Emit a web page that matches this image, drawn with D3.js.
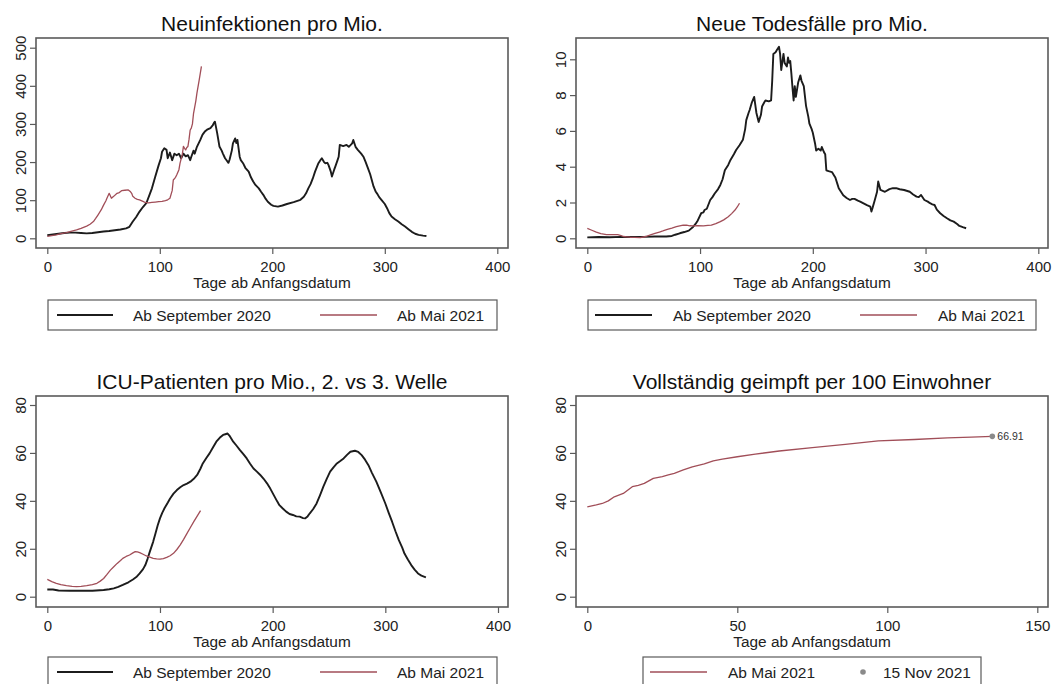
<!DOCTYPE html>
<html><head><meta charset="utf-8">
<script src="https://cdn.jsdelivr.net/npm/d3@7/dist/d3.min.js"></script>
<style>
body{margin:0;background:#fff;}
svg{display:block;font-family:"Liberation Sans",Arial,sans-serif;}
</style></head>
<body><svg id="c" width="1060" height="684"></svg>
<script>
// ---------- DATA ----------
const xTicksLong = [0,100,200,300,400];
const xTicksVax = [0,50,100,150];
const yTicksInf = [0,100,200,300,400,500];
const yTicksDeath = [0,2,4,6,8,10];
const yTicksIcu = [0,20,40,60,80];
const yTicksVax = [0,20,40,60,80];

const titles = ["Neuinfektionen pro Mio.","Neue Todesfälle pro Mio.","ICU-Patienten pro Mio., 2. vs 3. Welle","Vollständig geimpft per 100 Einwohner"];
const xTitle = "Tage ab Anfangsdatum";
const seriesNames = ["Ab September 2020","Ab Mai 2021"];
const markerName = "15 Nov 2021";

// Neuinfektionen – Ab September 2020
const infSepDays = [0,5,10,15,20,25,30,35,40,45,50,55,60,65,70,73,76,79,82,85,88,91,93,96,99,101,102,104,106,107,109,111,113,115,117,119,121,123,125,127,128,130,131,133,136,138,140,142,145,147,148,149,151,153,155,156,158,159,161,162,164,165,167,168,169,171,172,174,176,179,181,183,185,188,190,192,194,196,199,201,205,209,213,219,225,228,230,232,234,236,238,241,243,244,246,247,249,250,252,253,255,256,258,259,260,263,266,268,271,272,274,276,279,281,283,285,287,290,292,293,295,297,300,302,304,306,309,312,315,318,321,324,327,330,334,337];
const infSepVals = [8,10,12,14,15,15,14,13,14,16,18,19,21,23,26,30,44,56,70,82,92,115,131,162,192,210,227,236,232,210,225,205,222,218,222,210,222,215,218,205,214,230,222,240,258,272,280,285,289,296,302,306,276,241,230,223,210,206,198,206,230,249,262,250,258,214,205,197,185,175,160,149,140,131,122,114,104,96,88,85,83,86,90,95,101,109,118,131,142,157,175,197,206,210,200,197,198,192,175,162,180,188,205,214,245,242,245,240,249,258,240,232,222,214,200,184,168,136,122,118,108,101,90,79,66,57,50,44,37,31,24,17,12,9,7,6];
// Neuinfektionen – Ab Mai 2021
const infMaiDays = [0,4,8,12,17,21,26,30,35,38,41,43,45,48,50,52,53,55,57,59,62,64,66,69,72,74,75,76,78,80,82,85,87,90,93,96,99,102,105,107,109,111,112,114,115,117,118,120,121,122,123,124,125,126,127,128,129,130,132,133,135,137];
const infMaiVals = [5,7,9,12,15,18,22,26,32,37,44,52,61,75,87,98,105,118,105,110,118,120,125,126,127,122,118,110,105,102,101,97,94,93,94,95,96,97,99,101,105,125,153,160,166,180,197,220,241,236,232,238,241,260,284,289,300,328,360,381,415,451];

// Todesfälle – Ab September 2020
const deathSepDays = [0,10,20,30,40,50,60,70,75,78,82,86,90,94,96,98,101,103,104,106,109,111,113,116,118,120,122,125,127,130,132,135,138,140,141,143,144,146,148,150,152,154,155,157,158,161,163,164,165,167,168,170,171,172,174,175,177,178,179,180,181,182,183,184,185,187,189,190,192,194,196,197,199,200,202,203,205,207,208,210,211,212,214,217,219,220,222,223,225,227,230,233,235,237,240,242,245,248,251,252,253,255,257,258,260,262,264,268,271,274,277,281,286,289,292,294,296,299,302,304,306,308,310,313,316,319,322,325,328,330,333,336];
const deathSepVals = [0.05,0.07,0.06,0.08,0.07,0.08,0.1,0.1,0.13,0.2,0.28,0.35,0.43,0.65,0.8,1.0,1.4,1.45,1.58,1.65,2.14,2.3,2.5,2.75,2.98,3.3,3.8,4.1,4.38,4.7,4.93,5.2,5.5,6.1,6.6,7.0,7.17,7.6,7.9,7.0,6.5,6.9,7.36,7.6,7.7,7.65,7.7,8.8,10.3,10.4,10.5,10.7,10.3,9.4,10.3,9.8,9.6,10.1,9.8,9.9,9.2,8.4,7.7,8.5,7.9,8.7,9.1,8.8,8.5,7.4,6.8,6.4,6.1,5.9,5.3,4.9,5.0,4.9,5.1,4.8,4.7,3.8,3.75,3.7,3.5,3.4,3.0,2.8,2.6,2.4,2.25,2.14,2.2,2.2,2.1,2.05,1.95,1.85,1.77,1.5,1.7,2.14,2.6,3.17,2.7,2.65,2.6,2.75,2.8,2.8,2.74,2.7,2.6,2.45,2.33,2.3,2.42,2.14,2.05,1.96,1.9,1.86,1.6,1.4,1.25,1.12,1.0,0.93,0.8,0.69,0.62,0.56];
// Todesfälle – Ab Mai 2021
const deathMaiDays = [0,4,8,12,17,22,27,30,32,35,38,42,47,52,56,60,64,67,71,75,79,82,85,88,91,94,98,103,107,110,114,118,121,125,128,131,133,135];
const deathMaiVals = [0.55,0.45,0.34,0.26,0.2,0.2,0.2,0.15,0.1,0.08,0.06,0.05,0.04,0.1,0.19,0.27,0.35,0.41,0.5,0.57,0.65,0.7,0.74,0.73,0.7,0.69,0.7,0.69,0.72,0.74,0.82,0.93,1.03,1.2,1.38,1.58,1.75,1.96];

// ICU – Ab September 2020
const icuSepDays = [0,5,10,20,30,40,50,55,59,63,67,72,76,79,82,85,87,89,91,94,96,98,100,102,104,107,109,112,115,118,121,124,127,130,133,136,138,141,144,147,150,153,156,158,160,162,165,168,171,174,177,180,183,186,189,192,195,198,201,204,206,209,212,215,218,221,224,227,229,231,233,236,239,242,245,248,251,254,257,260,263,266,269,273,276,279,282,285,288,292,296,300,303,306,309,312,315,317,320,323,326,329,332,336];
const icuSepVals = [3,3,2.6,2.5,2.5,2.5,2.8,3.1,3.5,4.1,4.9,6,7.2,8.2,9.7,11.5,13.2,15.8,18.8,23,26.4,29.8,32.7,35,36.9,39.3,41,43,44.5,45.7,46.6,47.2,48,49.2,50.8,53.5,55.6,57.8,59.8,62.3,64.7,66.3,67.5,67.8,68.1,67,64.7,63,61.2,59.5,57.7,55.5,53.5,52.2,50.8,49.2,47.3,45,42.4,39.8,38.2,36.8,35.5,34.5,34.1,33.5,33.4,32.8,32.7,33.5,34.8,36.6,38.9,42.3,45.9,49.2,52.2,54,55.6,56.6,57.7,59.2,60.5,60.9,60.4,59.1,57.2,54.9,51.8,48,43.5,38.9,35,31.3,27.3,23.6,20.5,18,15.5,13.2,11.3,9.7,8.8,8.1];
// ICU – Ab Mai 2021
const icuMaiDays = [0,4,8,12,17,22,26,30,35,40,44,47,50,53,56,59,62,65,67,70,73,76,78,80,82,85,88,91,94,97,100,103,106,109,112,115,118,121,124,127,130,133,136];
const icuMaiVals = [7.2,6.3,5.6,5.0,4.6,4.3,4.2,4.3,4.6,5.0,5.6,6.5,7.6,9.3,11.1,12.5,13.9,15.1,16,16.8,17.4,18.3,18.8,18.7,18.4,17.7,17,16.5,16,15.8,15.7,15.9,16.4,17.1,18.1,19.7,21.6,23.9,26.4,28.9,31.3,33.6,35.9];

// Geimpft – Ab Mai 2021
const vaxDays = [0,3,5,7,9,12,15,17,19,22,25,27,29,32,35,39,42,45,50,56,64,75,86,97,109,120,128,135];
const vaxVals = [37.5,38.3,38.9,40,41.7,43.1,45.9,46.5,47.3,49.4,50.1,50.8,51.5,52.9,54.2,55.4,56.7,57.4,58.4,59.5,60.8,62.2,63.6,65.0,65.6,66.3,66.6,66.91];
const vaxMarkerDay = 135;
const vaxMarkerVal = 66.91;

// ---------- DRAWING ----------
const BLACK = "#1c1c1c", RED = "#a14e58", FRAME = "#5a5a5a", TXT = "#222";
const svg = d3.select("#c");

function zip(days, vals){ return days.map((d,i)=>[d, vals[i]]); }

function panel(cfg){
  const g = svg.append("g");
  const x = d3.scaleLinear().domain(cfg.xDomain).range(cfg.xRange);
  const y = d3.scaleLinear().domain(cfg.yDomain).range(cfg.yRange);
  const f = cfg.frame;
  g.append("text").attr("x",(f.x0+f.x1)/2).attr("y",f.y0-7).attr("text-anchor","middle")
    .attr("font-size",21).attr("fill","#111").text(cfg.title);
  g.append("rect").attr("x",f.x0).attr("y",f.y0).attr("width",f.x1-f.x0).attr("height",f.y1-f.y0)
    .attr("fill","none").attr("stroke",FRAME).attr("stroke-width",1.6);
  const xa = g.append("g").attr("transform",`translate(0,${f.y1})`)
    .call(d3.axisBottom(x).tickValues(cfg.xTicks).tickSize(6).tickPadding(7).tickFormat(d3.format("d")));
  xa.select(".domain").remove();
  xa.selectAll("line").attr("stroke",FRAME).attr("stroke-width",1.2);
  xa.selectAll("text").attr("font-size",15).attr("fill",TXT).attr("font-family","Liberation Sans, Arial, sans-serif");
  const ya = g.append("g").attr("transform",`translate(${f.x0},0)`)
    .call(d3.axisLeft(y).tickValues(cfg.yTicks).tickSize(6).tickFormat(d3.format("d")));
  ya.select(".domain").remove();
  ya.selectAll("line").attr("stroke",FRAME).attr("stroke-width",1.2);
  ya.selectAll("text").attr("transform","rotate(-90)").attr("x",0).attr("y",-10).attr("dy",0)
    .attr("text-anchor","middle").attr("font-size",15).attr("fill",TXT)
    .attr("font-family","Liberation Sans, Arial, sans-serif");
  g.append("text").attr("x",(f.x0+f.x1)/2).attr("y",f.y1+40).attr("text-anchor","middle")
    .attr("font-size",15.4).attr("fill",TXT).text(xTitle);
  const line = d3.line().x(d=>x(d[0])).y(d=>y(d[1]));
  cfg.series.forEach(s=>{
    g.append("path").datum(s.data).attr("d",line).attr("fill","none")
      .attr("stroke",s.color).attr("stroke-width",s.width).attr("stroke-linejoin","round");
  });
  if(cfg.marker){
    g.append("circle").attr("cx",x(cfg.marker[0])).attr("cy",y(cfg.marker[1])).attr("r",2.8).attr("fill","#8a8a8a");
    g.append("text").attr("x",x(cfg.marker[0])+5).attr("y",y(cfg.marker[1])+3.5)
      .attr("font-size",10.5).attr("fill","#333").text(d3.format(".2f")(cfg.marker[1]));
  }
  const L = cfg.legend;
  g.append("rect").attr("x",L.x0).attr("y",f.y1+L.dy).attr("width",L.x1-L.x0).attr("height",30)
    .attr("fill","#fff").attr("stroke",FRAME).attr("stroke-width",1.2);
  const ly = f.y1+L.dy+15;
  L.items.forEach(it=>{
    if(it.type==="line"){
      g.append("line").attr("x1",it.lx0).attr("x2",it.lx1).attr("y1",ly).attr("y2",ly)
        .attr("stroke",it.color).attr("stroke-width",it.width);
    } else {
      g.append("circle").attr("cx",it.lx0).attr("cy",ly).attr("r",2.8).attr("fill","#8a8a8a");
    }
    g.append("text").attr("x",it.tx).attr("y",ly+5.5).attr("font-size",15.5).attr("fill",TXT).text(it.label);
  });
}

panel({
  title:titles[0], frame:{x0:36,x1:508,y0:38,y1:248},
  xDomain:[0,400], xRange:[47.3,497.3], yDomain:[0,500], yRange:[238.3,47.7],
  xTicks:xTicksLong, yTicks:yTicksInf,
  series:[{data:zip(infSepDays,infSepVals),color:BLACK,width:1.9},{data:zip(infMaiDays,infMaiVals),color:RED,width:1.3}],
  legend:{x0:48,x1:497,dy:52,items:[
    {type:"line",lx0:57,lx1:113,color:BLACK,width:1.8,tx:133,label:seriesNames[0]},
    {type:"line",lx0:320,lx1:377,color:RED,width:1.3,tx:397,label:seriesNames[1]}]}
});
panel({
  title:titles[1], frame:{x0:576,x1:1048,y0:38,y1:248},
  xDomain:[0,400], xRange:[587.3,1038.3], yDomain:[0,10], yRange:[238.3,59.3],
  xTicks:xTicksLong, yTicks:yTicksDeath,
  series:[{data:zip(deathSepDays,deathSepVals),color:BLACK,width:1.9},{data:zip(deathMaiDays,deathMaiVals),color:RED,width:1.3}],
  legend:{x0:588,x1:1036,dy:52,items:[
    {type:"line",lx0:595,lx1:652,color:BLACK,width:1.8,tx:673,label:seriesNames[0]},
    {type:"line",lx0:860,lx1:917,color:RED,width:1.3,tx:938,label:seriesNames[1]}]}
});
panel({
  title:titles[2], frame:{x0:36,x1:508,y0:396,y1:607},
  xDomain:[0,400], xRange:[47.3,498], yDomain:[0,80], yRange:[596.7,405],
  xTicks:xTicksLong, yTicks:yTicksIcu,
  series:[{data:zip(icuSepDays,icuSepVals),color:BLACK,width:1.9},{data:zip(icuMaiDays,icuMaiVals),color:RED,width:1.3}],
  legend:{x0:48,x1:497,dy:50,items:[
    {type:"line",lx0:57,lx1:113,color:BLACK,width:1.8,tx:133,label:seriesNames[0]},
    {type:"line",lx0:320,lx1:377,color:RED,width:1.3,tx:397,label:seriesNames[1]}]}
});
panel({
  title:titles[3], frame:{x0:576,x1:1048,y0:396,y1:607},
  xDomain:[0,150], xRange:[587.3,1037.3], yDomain:[0,80], yRange:[596.7,405],
  xTicks:xTicksVax, yTicks:yTicksVax,
  series:[{data:zip(vaxDays,vaxVals),color:RED,width:1.3}],
  marker:[vaxMarkerDay,vaxMarkerVal],
  legend:{x0:643,x1:981,dy:50,items:[
    {type:"line",lx0:650,lx1:707,color:RED,width:1.3,tx:728,label:seriesNames[1]},
    {type:"dot",lx0:863,tx:883,label:markerName}]}
});
</script></body></html>
